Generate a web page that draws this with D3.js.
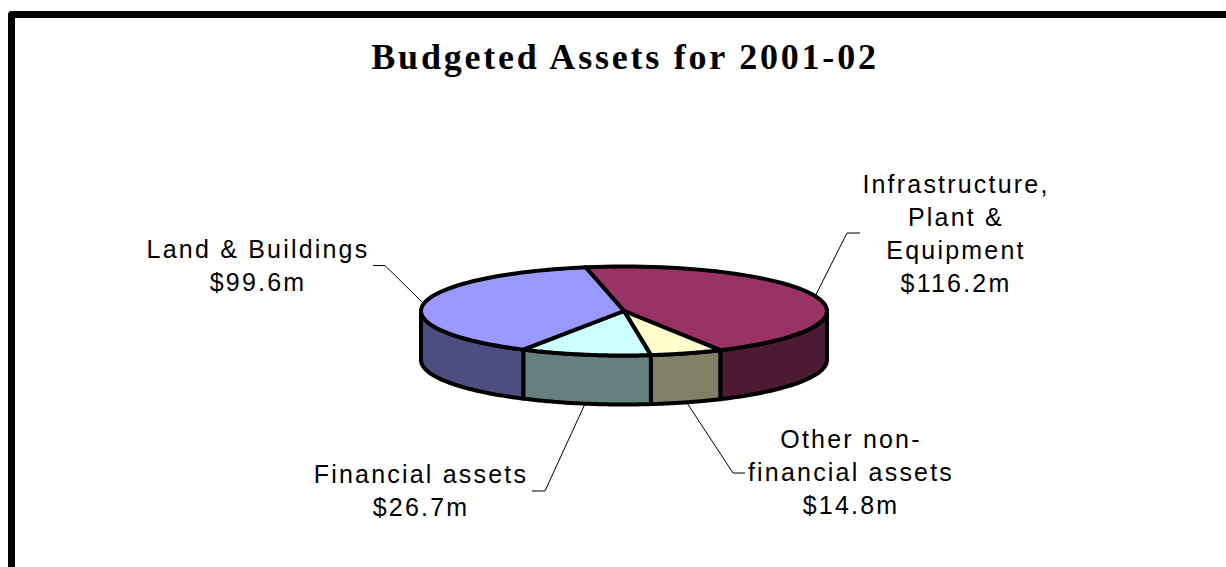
<!DOCTYPE html>
<html><head><meta charset="utf-8">
<script src="https://cdn.jsdelivr.net/npm/d3@7"></script>
<style>html,body{margin:0;padding:0;background:#fff;overflow:hidden}svg{display:block}</style>
</head><body><div id="c"></div>
<script>
const titleText = "Budgeted Assets for 2001-02";
const categories = ["Infrastructure, Plant & Equipment","Other non-financial assets","Financial assets","Land & Buildings"];
const values = [116.2,14.8,26.7,99.6];
const valueLabels = ["$116.2m","$14.8m","$26.7m","$99.6m"];
const labelLines = [["Infrastructure,","Plant &","Equipment"],["Other non-","financial assets"],["Financial assets"],["Land & Buildings"]];
const topColors = ["#993366","#FFFFCC","#CCFFFF","#9999FF"];
const sideColors = ["#4D1A33","#808066","#668080","#4D4D80"];

const W=1226,H=567,cx=624,cy=311,rx=203,ry=44.5,depth=49;
const labelX=[956,851,421,258], labelY=[192.5,448,482.5,258];
const elbowEnd=[[860,233],[745,473],[532,491],[373,265.5]];
const elbowDir=[-13,-12,13,12];
const startAngle=-10.9*Math.PI/180;

const svg=d3.select("#c").append("svg").attr("width",W).attr("height",H);
svg.append("path").attr("d","M11.5,575V14.5H1235").attr("fill","none").attr("stroke","#000").attr("stroke-width",7).attr("stroke-linejoin","round");
svg.append("text").attr("x",625).attr("y",69).attr("text-anchor","middle")
  .attr("font-family","'Liberation Serif'").attr("font-weight","bold").attr("font-size",36).attr("letter-spacing",2.78).text(titleText);

const pie=d3.pie().sort(null).startAngle(startAngle).endAngle(startAngle+2*Math.PI);
const arcs=pie(values);
const sx=d3.scaleLinear().domain([-1,1]).range([cx-rx,cx+rx]);
const sy=d3.scaleLinear().domain([-1,1]).range([cy-ry,cy+ry]);
const px=a=>sx(Math.sin(a)), py=a=>sy(-Math.cos(a));
const ang=(a0,a1)=>d3.range(0,61).map(i=>a0+(a1-a0)*i/60);
const line=d3.line();

const g=svg.append("g").attr("stroke","#000").attr("stroke-width",4).attr("stroke-linejoin","round");
const leaders=svg.insert("g","g").attr("fill","none").attr("stroke","#000").attr("stroke-width",1);
arcs.forEach((d,i)=>{
  const a0=Math.max(d.startAngle,Math.PI/2), a1=Math.min(d.endAngle,3*Math.PI/2);
  if(a1>a0){
    const bot=ang(a0,a1).map(a=>[px(a),py(a)+depth]);
    const tp=ang(a1,a0).map(a=>[px(a),py(a)]);
    g.append("path").attr("d",line(bot.concat(tp))+"Z").attr("fill",sideColors[i]);
  }
});
arcs.forEach((d,i)=>{
  const pts=[[cx,cy]].concat(ang(d.startAngle,d.endAngle).map(a=>[px(a),py(a)]));
  g.append("path").attr("d",line(pts)+"Z").attr("fill",topColors[i]);
});
arcs.forEach((d,i)=>{
  const m=(d.startAngle+d.endAngle)/2;
  const front=Math.cos(m)<0 && Math.abs(Math.sin(m))<0.9;
  const ax=px(m), ay=py(m)+(front?depth:0);
  const [ex,ey]=elbowEnd[i];
  leaders.append("path").attr("d",line([[ax,ay],[ex+elbowDir[i],ey],[ex,ey]]));
  const t=svg.append("text").attr("text-anchor","middle").attr("font-family","'Liberation Sans'").attr("font-size",25).attr("letter-spacing",2.2).attr("fill","#000");
  labelLines[i].concat([valueLabels[i]]).forEach((s,k)=>{
    t.append("tspan").attr("x",labelX[i]).attr("y",labelY[i]+k*33).text(s);
  });
});
</script></body></html>
